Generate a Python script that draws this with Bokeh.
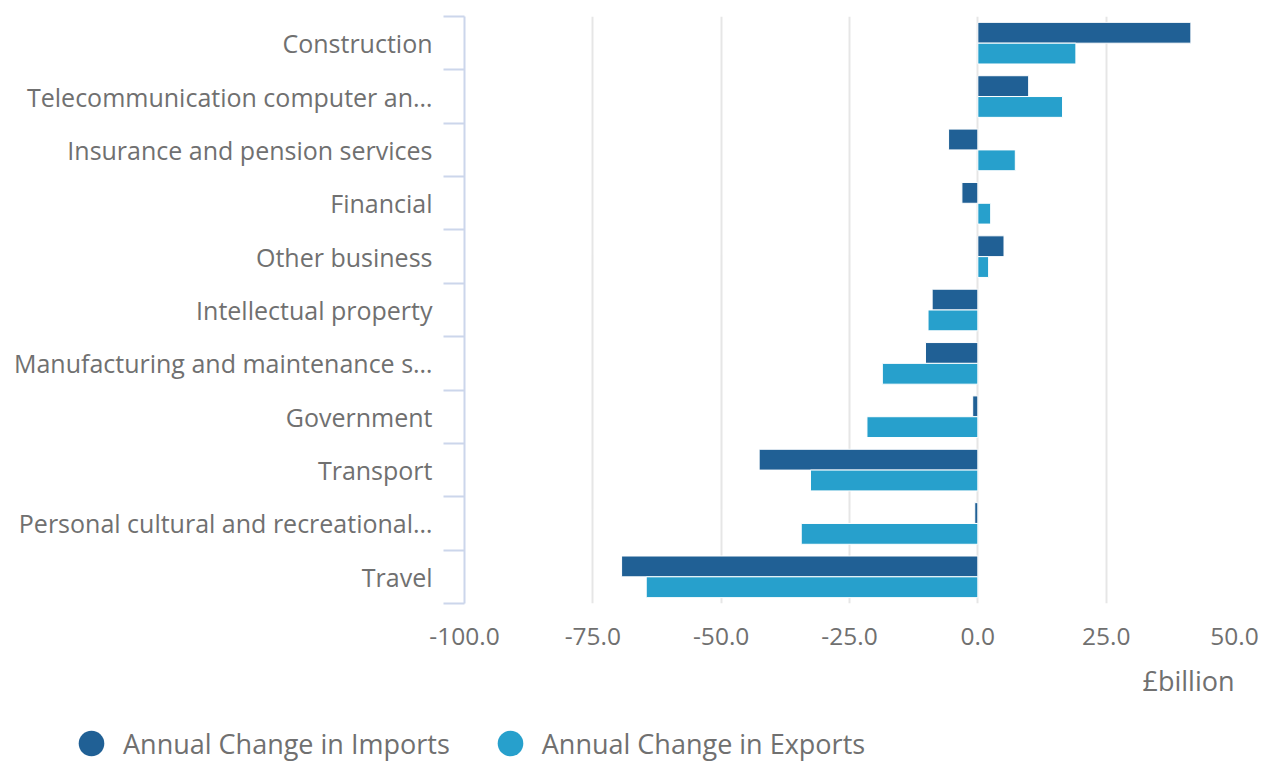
from bokeh.plotting import figure
from bokeh.layouts import column
from bokeh.models import (Range1d, FixedTicker, NumeralTickFormatter, Legend, LegendItem,
                          Title, ColumnDataSource)
from bokeh.embed import file_html
from bokeh.resources import INLINE

# ---- data ----
categories = [
    "Construction",
    "Telecommunication computer an…",
    "Insurance and pension services",
    "Financial",
    "Other business",
    "Intellectual property",
    "Manufacturing and maintenance s…",
    "Government",
    "Transport",
    "Personal cultural and recreational…",
    "Travel",
]
imports = [41.5, 9.9, -5.7, -3.1, 5.1, -8.9, -10.2, -1.0, -42.6, -0.6, -69.4]
exports = [19.1, 16.5, 7.3, 2.5, 2.1, -9.7, -18.6, -21.6, -32.6, -34.4, -64.6]
x_ticks = [-100, -75, -50, -25, 0, 25, 50]
series_names = ["Annual Change in Imports", "Annual Change in Exports"]
unit_label = "£billion"

# ---- styles ----
IMP = "#206095"
EXP = "#27a0cc"
TEXT = "#707070"
AXIS = "#ccd6eb"
GRID = "#e6e6e6"
FONT = "Open Sans"

n = len(categories)
centers = [n - 1 - i for i in range(n)]
boundaries = [c - 0.5 for c in range(n)] + [n - 0.5]
bar_h = 0.39
off = bar_h / 2

src = ColumnDataSource(dict(
    cat=categories,
    imports=imports,
    exports=exports,
    imp_y=[c + off for c in centers],
    exp_y=[c - off for c in centers],
))

p = figure(width=1266, height=710, title=None,
           x_range=Range1d(x_ticks[0], x_ticks[-1]),
           y_range=Range1d(-0.5, n - 0.5),
           output_backend="svg", toolbar_location=None,
           min_border_left=464, min_border_right=32, min_border_top=16,
           min_border_bottom=107)
p.outline_line_color = None

p.hbar(y="imp_y", left=0, right="imports", height=bar_h, source=src,
       fill_color=IMP, line_color="white", line_width=1)
p.hbar(y="exp_y", left=0, right="exports", height=bar_h, source=src,
       fill_color=EXP, line_color="white", line_width=1)

# ---- y axis ----
yax = p.yaxis[0]
yax.ticker = FixedTicker(ticks=centers, minor_ticks=boundaries)
yax.major_label_overrides = {c: cat for c, cat in zip(centers, categories)}
yax.major_tick_line_color = None
yax.major_tick_out = 0
yax.major_tick_in = 0
yax.minor_tick_out = 21
yax.minor_tick_in = 0
yax.minor_tick_line_color = AXIS
yax.minor_tick_line_width = 2
yax.axis_line_color = AXIS
yax.axis_line_width = 2
yax.major_label_standoff = 11
yax.major_label_text_font = FONT
yax.major_label_text_font_size = "25px"
yax.major_label_text_color = TEXT
p.ygrid.visible = False

# ---- x axis ----
xax = p.xaxis[0]
xax.ticker = FixedTicker(ticks=x_ticks, minor_ticks=[])
xax.formatter = NumeralTickFormatter(format="0.0")
xax.axis_line_color = None
xax.major_tick_line_color = None
xax.minor_tick_line_color = None
xax.major_tick_out = 0
xax.major_tick_in = 0
xax.major_label_standoff = 24
xax.major_label_text_font = FONT
xax.major_label_text_font_size = "24.5px"
xax.major_label_text_color = TEXT
p.xgrid.ticker = FixedTicker(ticks=x_ticks, minor_ticks=[])
p.xgrid.grid_line_color = GRID
p.xgrid.grid_line_width = 2

# unit label under the axis, right-aligned
p.add_layout(Title(text=unit_label, align="right", offset=0, standoff=24, text_font=FONT,
                   text_font_size="27px", text_font_style="normal",
                   text_color=TEXT), "below")

# ---- legend strip ----
lf = figure(width=1266, height=51, title=None, x_range=Range1d(0, 1), y_range=Range1d(0, 1),
            output_backend="svg", toolbar_location=None, x_axis_type=None, y_axis_type=None,
            min_border=0, min_border_left=0, min_border_right=0,
            min_border_top=0, min_border_bottom=0)
lf.outline_line_color = None
lf.xgrid.visible = False
lf.ygrid.visible = False
s_imp = lf.scatter(x="imports", y="imp_y", source=src, marker="circle", size=10,
                   fill_color=IMP, line_color=None, visible=False)
s_exp = lf.scatter(x="exports", y="exp_y", source=src, marker="circle", size=10,
                   fill_color=EXP, line_color=None, visible=False)
legend = Legend(items=[LegendItem(label=series_names[0], renderers=[s_imp]),
                       LegendItem(label=series_names[1], renderers=[s_exp])],
                location=(59, -17), orientation="horizontal",
                glyph_width=64, glyph_height=70, label_standoff=0, spacing=28,
                padding=0, margin=0, border_line_color=None, background_fill_alpha=0,
                label_text_font=FONT, label_text_font_size="27px",
                label_text_color=TEXT, inactive_fill_alpha=0)
lf.add_layout(legend, "center")

layout = column(p, column(lf, spacing=0), spacing=0)
open("out.html", "w").write(file_html(layout, INLINE))
